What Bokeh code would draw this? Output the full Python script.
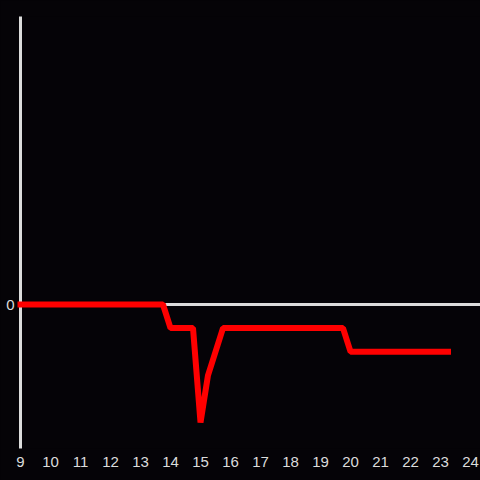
from bokeh.plotting import figure
from bokeh.models import FixedTicker, Span, Range1d, GlobalInlineStyleSheet
from bokeh.embed import file_html
from bokeh.resources import INLINE

# data (hours of day, value)
hours = [9, 13.75, 14, 14.75, 15, 15.25, 15.75, 19.75, 20, 23.25]
values = [0, 0, -1, -1, -5, -3, -1, -1, -2, -2]
x_ticks = list(range(9, 25))
y_ticks = [0]

BG = "#050307"
FG = "#dcdcdc"
FONT = "Liberation Sans"

css = GlobalInlineStyleSheet(css=f"html, body {{ margin: 0; padding: 0; background: {BG}; overflow: hidden; }}")

p = figure(width=480, height=480, output_backend="svg", toolbar_location=None,
           x_range=Range1d(9, 24.333), y_range=Range1d(-6.1, 12.2),
           min_border_left=20, min_border_right=0, min_border_top=16, min_border_bottom=32)
p.stylesheets = [css]
p.background_fill_color = BG
p.border_fill_color = BG
p.outline_line_color = None
p.xgrid.visible = False
p.ygrid.visible = False

zero = Span(location=0, dimension="width", line_color=FG, line_width=3, level="underlay")
p.add_layout(zero)

p.line(hours, values, line_color="#ff0000", line_width=6, line_cap="square",
       line_join="bevel", level="overlay")

p.xaxis.ticker = FixedTicker(ticks=x_ticks)
p.xaxis.axis_line_color = None
p.xaxis.major_tick_line_color = None
p.xaxis.minor_tick_line_color = None
p.xaxis.major_label_standoff = 2
p.xaxis.major_label_text_color = FG
p.xaxis.major_label_text_font = FONT
p.xaxis.major_label_text_font_size = "15px"

p.yaxis.ticker = FixedTicker(ticks=y_ticks)
p.yaxis.axis_line_color = FG
p.yaxis.axis_line_width = 3
p.yaxis.major_tick_line_color = None
p.yaxis.minor_tick_line_color = None
p.yaxis.major_label_standoff = 0
p.yaxis.major_label_text_color = FG
p.yaxis.major_label_text_font = FONT
p.yaxis.major_label_text_font_size = "15px"

open("out.html", "w").write(file_html(p, INLINE))
